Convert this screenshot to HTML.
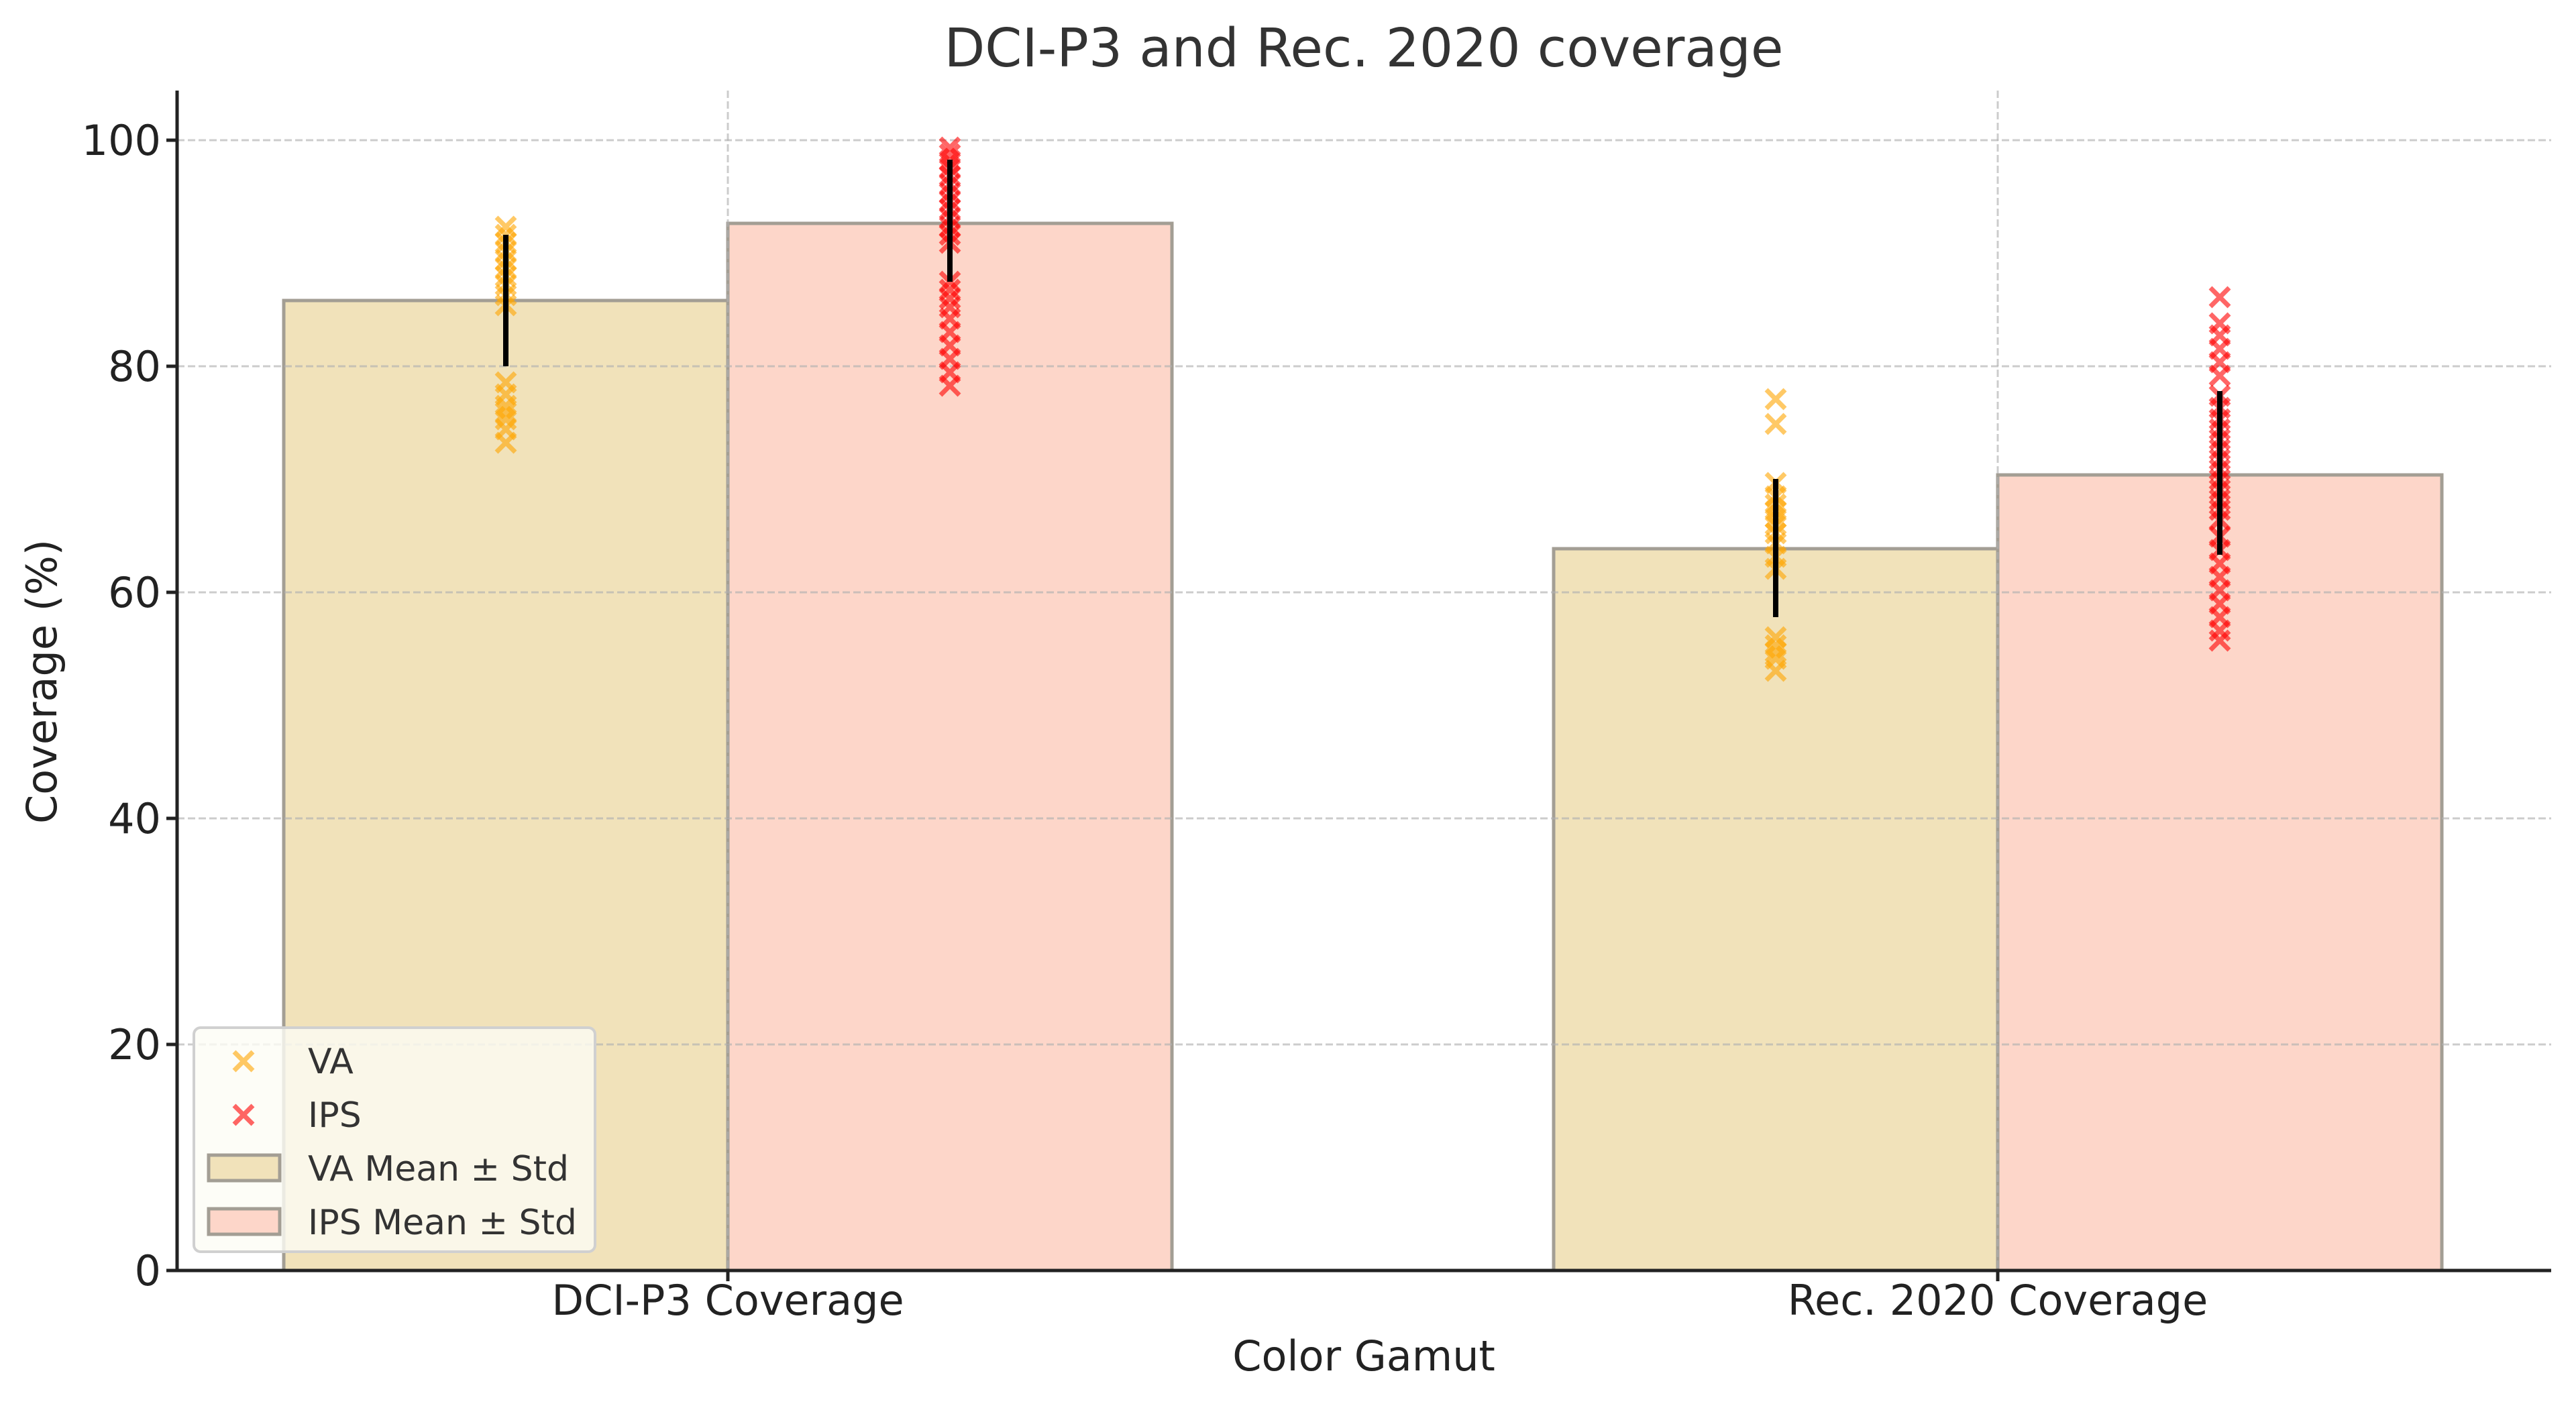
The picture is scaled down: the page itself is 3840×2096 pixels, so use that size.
<!DOCTYPE html>
<html><head><meta charset="utf-8"><style>
html,body{margin:0;padding:0;background:#fff;}
svg{display:block;font-family:"DejaVu Sans","Liberation Sans",sans-serif;}
</style></head><body>
<svg width="3840" height="2096" viewBox="0 0 3840 2096" xmlns="http://www.w3.org/2000/svg">
<defs>
<g id="xo"><path d="M-14,-14L14,14M-14,14L14,-14" stroke="#FFA500" stroke-opacity="0.6" stroke-width="7" fill="none"/></g>
<g id="xr"><path d="M-14,-14L14,14M-14,14L14,-14" stroke="#FF0000" stroke-opacity="0.6" stroke-width="7" fill="none"/></g>
</defs>
<rect width="3840" height="2096" fill="#fff"/>
<g stroke="#a39e94" stroke-width="5">
<rect x="423" y="448" width="662" height="1446" fill="#F1E2BA"/>
<rect x="1085" y="333" width="662" height="1561" fill="#FDD6C9"/>
<rect x="2316" y="818" width="662" height="1076" fill="#F1E2BA"/>
<rect x="2978" y="708" width="662" height="1186" fill="#FDD6C9"/>
</g>
<g stroke="#b0b0b0" stroke-opacity="0.65" stroke-width="3" stroke-dasharray="11,5">
<line x1="264" x2="3803" y1="209" y2="209"/>
<line x1="264" x2="3803" y1="546" y2="546"/>
<line x1="264" x2="3803" y1="883" y2="883"/>
<line x1="264" x2="3803" y1="1220" y2="1220"/>
<line x1="264" x2="3803" y1="1557" y2="1557"/>
<line x1="1085" x2="1085" y1="135" y2="1894"/>
<line x1="2978" x2="2978" y1="135" y2="1894"/>
</g>
<g>
<use href="#xo" x="754" y="338"/><use href="#xo" x="754" y="350"/><use href="#xo" x="754" y="362"/><use href="#xo" x="754" y="375"/><use href="#xo" x="754" y="388"/><use href="#xo" x="754" y="400"/><use href="#xo" x="754" y="412"/><use href="#xo" x="754" y="425"/><use href="#xo" x="754" y="440"/><use href="#xo" x="754" y="455"/>
<use href="#xo" x="754" y="570"/><use href="#xo" x="754" y="588"/><use href="#xo" x="754" y="605"/><use href="#xo" x="754" y="615"/><use href="#xo" x="754" y="625"/><use href="#xo" x="754" y="640"/><use href="#xo" x="754" y="660"/>
</g>
<g>
<use href="#xr" x="1416" y="220"/><use href="#xr" x="1416" y="230"/><use href="#xr" x="1416" y="240"/><use href="#xr" x="1416" y="250"/><use href="#xr" x="1416" y="262"/><use href="#xr" x="1416" y="275"/><use href="#xr" x="1416" y="288"/><use href="#xr" x="1416" y="300"/><use href="#xr" x="1416" y="312"/><use href="#xr" x="1416" y="325"/><use href="#xr" x="1416" y="338"/><use href="#xr" x="1416" y="350"/><use href="#xr" x="1416" y="362"/>
<use href="#xr" x="1416" y="420"/><use href="#xr" x="1416" y="432"/><use href="#xr" x="1416" y="445"/><use href="#xr" x="1416" y="458"/><use href="#xr" x="1416" y="475"/><use href="#xr" x="1416" y="495"/><use href="#xr" x="1416" y="515"/><use href="#xr" x="1416" y="535"/><use href="#xr" x="1416" y="555"/><use href="#xr" x="1416" y="575"/>
</g>
<g>
<use href="#xo" x="2647" y="595"/><use href="#xo" x="2647" y="632"/>
<use href="#xo" x="2647" y="720"/><use href="#xo" x="2647" y="740"/><use href="#xo" x="2647" y="752"/><use href="#xo" x="2647" y="762"/><use href="#xo" x="2647" y="772"/><use href="#xo" x="2647" y="782"/><use href="#xo" x="2647" y="795"/><use href="#xo" x="2647" y="810"/><use href="#xo" x="2647" y="830"/><use href="#xo" x="2647" y="848"/>
<use href="#xo" x="2647" y="950"/><use href="#xo" x="2647" y="962"/><use href="#xo" x="2647" y="972"/><use href="#xo" x="2647" y="982"/><use href="#xo" x="2647" y="1000"/>
</g>
<g>
<use href="#xr" x="3309" y="443"/><use href="#xr" x="3309" y="482"/><use href="#xr" x="3309" y="500"/><use href="#xr" x="3309" y="520"/><use href="#xr" x="3309" y="540"/><use href="#xr" x="3309" y="560"/><use href="#xr" x="3309" y="590"/>
<use href="#xr" x="3309" y="608"/><use href="#xr" x="3309" y="625"/><use href="#xr" x="3309" y="640"/><use href="#xr" x="3309" y="655"/><use href="#xr" x="3309" y="670"/><use href="#xr" x="3309" y="685"/><use href="#xr" x="3309" y="700"/><use href="#xr" x="3309" y="715"/><use href="#xr" x="3309" y="730"/><use href="#xr" x="3309" y="745"/><use href="#xr" x="3309" y="760"/><use href="#xr" x="3309" y="775"/>
<use href="#xr" x="3309" y="800"/><use href="#xr" x="3309" y="820"/><use href="#xr" x="3309" y="840"/><use href="#xr" x="3309" y="860"/><use href="#xr" x="3309" y="880"/><use href="#xr" x="3309" y="900"/><use href="#xr" x="3309" y="920"/><use href="#xr" x="3309" y="940"/><use href="#xr" x="3309" y="955"/>
</g>
<g stroke="#000" stroke-width="8">
<line x1="754" x2="754" y1="350" y2="546"/>
<line x1="1416" x2="1416" y1="238" y2="420"/>
<line x1="2647" x2="2647" y1="714" y2="920"/>
<line x1="3309" x2="3309" y1="583" y2="827"/>
</g>
<g stroke="#222" stroke-width="5" fill="none">
<line x1="264" y1="135" x2="264" y2="1896"/>
<line x1="262" y1="1894" x2="3803" y2="1894"/>
</g>
<g stroke="#222" stroke-width="5">
<line x1="248" x2="264" y1="209" y2="209"/><line x1="248" x2="264" y1="546" y2="546"/><line x1="248" x2="264" y1="883" y2="883"/><line x1="248" x2="264" y1="1220" y2="1220"/><line x1="248" x2="264" y1="1557" y2="1557"/><line x1="248" x2="264" y1="1894" y2="1894"/>
<line x1="1085" x2="1085" y1="1894" y2="1910"/><line x1="2978" x2="2978" y1="1894" y2="1910"/>
</g>
<g fill="#222" font-size="62" text-anchor="end">
<text x="240" y="231">100</text><text x="240" y="568">80</text><text x="240" y="905">60</text><text x="240" y="1242">40</text><text x="240" y="1579">20</text><text x="240" y="1916">0</text>
</g>
<g fill="#222" font-size="62" text-anchor="middle">
<text x="1085" y="1960">DCI-P3 Coverage</text>
<text x="2978" y="1960">Rec. 2020 Coverage</text>
<text x="2033" y="2043">Color Gamut</text>
<text transform="translate(84,1016) rotate(-90)">Coverage (%)</text>
</g>
<text x="2033" y="99" fill="#333" font-size="79" text-anchor="middle">DCI-P3 and Rec. 2020 coverage</text>
<rect x="289" y="1532" width="598" height="334" rx="10" fill="#fdfcf5" fill-opacity="0.8" stroke="#d0d0d0" stroke-width="4"/>
<use href="#xo" x="363" y="1582"/>
<use href="#xr" x="363" y="1662"/>
<rect x="311" y="1722" width="106" height="38" fill="#F1E2BA" stroke="#a39e94" stroke-width="5"/>
<rect x="311" y="1802" width="106" height="38" fill="#FDD6C9" stroke="#a39e94" stroke-width="5"/>
<g fill="#333" font-size="52">
<text x="459" y="1600">VA</text>
<text x="459" y="1680">IPS</text>
<text x="459" y="1760">VA Mean ± Std</text>
<text x="459" y="1840">IPS Mean ± Std</text>
</g>
</svg>
</body></html>
